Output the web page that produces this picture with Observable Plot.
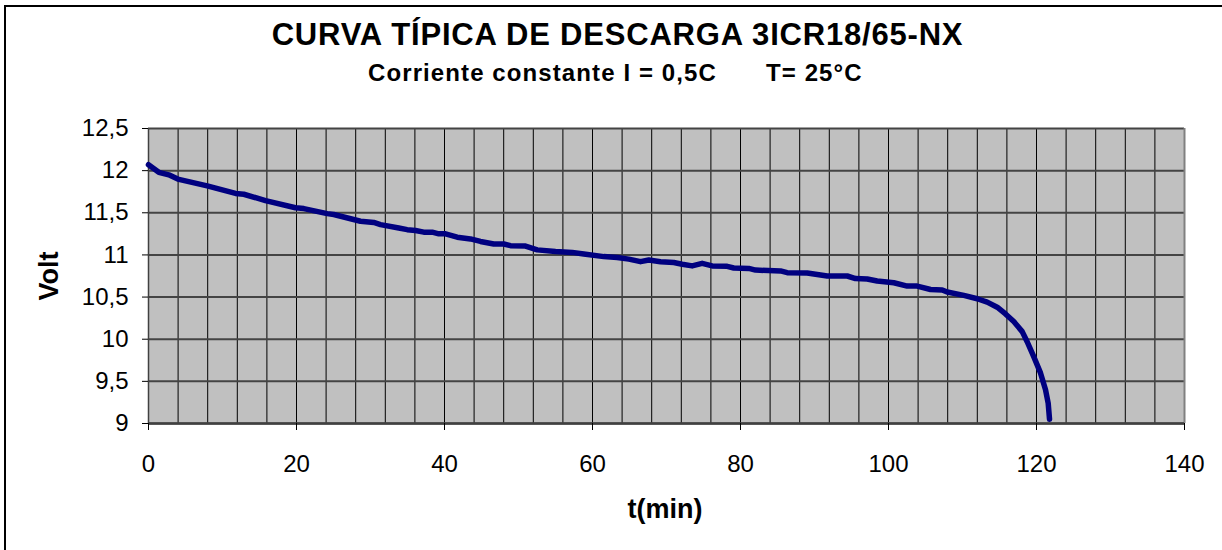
<!DOCTYPE html>
<html>
<head>
<meta charset="utf-8">
<script src="https://cdn.jsdelivr.net/npm/d3@7"></script>
<script src="https://cdn.jsdelivr.net/npm/@observablehq/plot@0.6"></script>
<style>
  html, body { margin: 0; padding: 0; background: #fff; }
  #wrap { position: relative; width: 1222px; height: 550px; overflow: hidden; font-family: "Liberation Sans", Arial, sans-serif; }
  #border { position: absolute; left: 4px; top: 5px; width: 1300px; height: 700px; border-left: 2px solid #000; border-top: 2px solid #000; }
  .t { position: absolute; white-space: pre; font-weight: bold; color: #000; line-height: 1; }
  #chart { position: absolute; left: 0; top: 0; }
</style>
</head>
<body>
<div id="wrap">
  <div id="border"></div>
  <div id="chart"></div>
  <div class="t" id="title" style="left:0;width:1235px;text-align:center;top:19px;font-size:31px;letter-spacing:0.8px;">CURVA TÍPICA DE DESCARGA 3ICR18/65-NX</div>
  <div class="t" id="sub1" style="left:368px;top:61px;font-size:24px;letter-spacing:1.1px;">Corriente constante I = 0,5C</div>
  <div class="t" id="sub2" style="left:766px;top:61px;font-size:24px;letter-spacing:1.1px;">T= 25°C</div>
  <div class="t" id="ylab" style="left:49px;top:276px;font-size:27px;transform:translate(-50%,-50%) rotate(-90deg);">Volt</div>
  <div class="t" id="xlab" style="left:665px;top:509px;font-size:27px;transform:translate(-50%,-50%);">t(min)</div>
</div>
<script>
// Data
const tMin = [0, 1.39, 2.74, 3.96, 7.93, 11.76, 12.88, 15.81, 19.86, 20.99, 24.15, 25.04, 28.65, 30.45, 31.35, 33.82, 34.96, 36.08, 37.2, 38.34, 39.23, 40.14, 41.72, 43.51, 44.86, 46.66, 48.01, 48.92, 50.95, 52.53, 55.0, 57.26, 58.82, 61.53, 63.34, 64.91, 66.49, 67.61, 69.19, 70.99, 72.12, 73.47, 74.82, 76.18, 78.2, 79.09, 81.12, 82.03, 85.41, 86.31, 89.01, 90.14, 91.72, 94.42, 95.54, 97.12, 98.47, 100.72, 102.53, 103.88, 105.68, 107.26, 107.93, 110.18, 111.99, 113.34, 114.69, 115.81, 116.93, 118.07, 118.74, 119.64, 120.54, 121.22, 121.58, 121.76];
const volts = [12.07, 11.98, 11.95, 11.9, 11.82, 11.73, 11.72, 11.645, 11.56, 11.55, 11.49, 11.48, 11.4, 11.385, 11.36, 11.32, 11.3, 11.29, 11.27, 11.27, 11.25, 11.25, 11.21, 11.19, 11.16, 11.13, 11.13, 11.11, 11.105, 11.06, 11.04, 11.03, 11.01, 10.98, 10.97, 10.95, 10.92, 10.94, 10.92, 10.91, 10.89, 10.87, 10.9, 10.87, 10.865, 10.845, 10.84, 10.82, 10.81, 10.79, 10.785, 10.77, 10.75, 10.75, 10.72, 10.715, 10.69, 10.67, 10.63, 10.63, 10.59, 10.585, 10.56, 10.52, 10.48, 10.44, 10.38, 10.3, 10.21, 10.09, 9.97, 9.79, 9.6, 9.4, 9.24, 9.05];
const xTicks = [0, 20, 40, 60, 80, 100, 120, 140];
const xGrid = [4, 8, 12, 16, 20, 24, 28, 32, 36, 40, 44, 48, 52, 56, 60, 64, 68, 72, 76, 80, 84, 88, 92, 96, 100, 104, 108, 112, 116, 120, 124, 128, 132, 136];
const yTicks = [9, 9.5, 10, 10.5, 11, 11.5, 12, 12.5];

const data = tMin.map((t, i) => ({t, v: volts[i]}));
const fmt = d => String(d).replace(".", ",");

const chart = Plot.plot({
  width: 1222,
  height: 550,
  marginLeft: 148,
  marginRight: 38,
  marginTop: 128,
  marginBottom: 127,
  style: {fontFamily: "'Liberation Sans', Arial, sans-serif", fontSize: "24px", color: "#000", background: "transparent"},
  x: {domain: [0, 140]},
  y: {domain: [9, 12.5]},
  marks: [
    Plot.frame({fill: "#c0c0c0", stroke: "none"}),
    Plot.ruleX(xGrid, {stroke: "#000", strokeWidth: 1}),
    Plot.ruleY(yTicks, {stroke: "#444", strokeWidth: 2}),
    Plot.ruleX([140], {stroke: "#808080", strokeWidth: 2}),
    Plot.ruleX([0], {stroke: "#404040", strokeWidth: 1.5}),
    Plot.ruleY([9], {stroke: "#404040", strokeWidth: 2.5}),
    Plot.axisX({ticks: xTicks, tickFormat: fmt, tickSize: 7, tickPadding: 24, stroke: "#000", label: null, fontSize: 24}),
    Plot.axisY({ticks: yTicks, tickFormat: fmt, tickSize: 6, tickPadding: 14, stroke: "#000", label: null, fontSize: 24}),
    Plot.line(data, {x: "t", y: "v", stroke: "#000080", strokeWidth: 5.5, strokeLinecap: "round", strokeLinejoin: "round"})
  ]
});
document.getElementById("chart").appendChild(chart);
</script>
</body>
</html>
